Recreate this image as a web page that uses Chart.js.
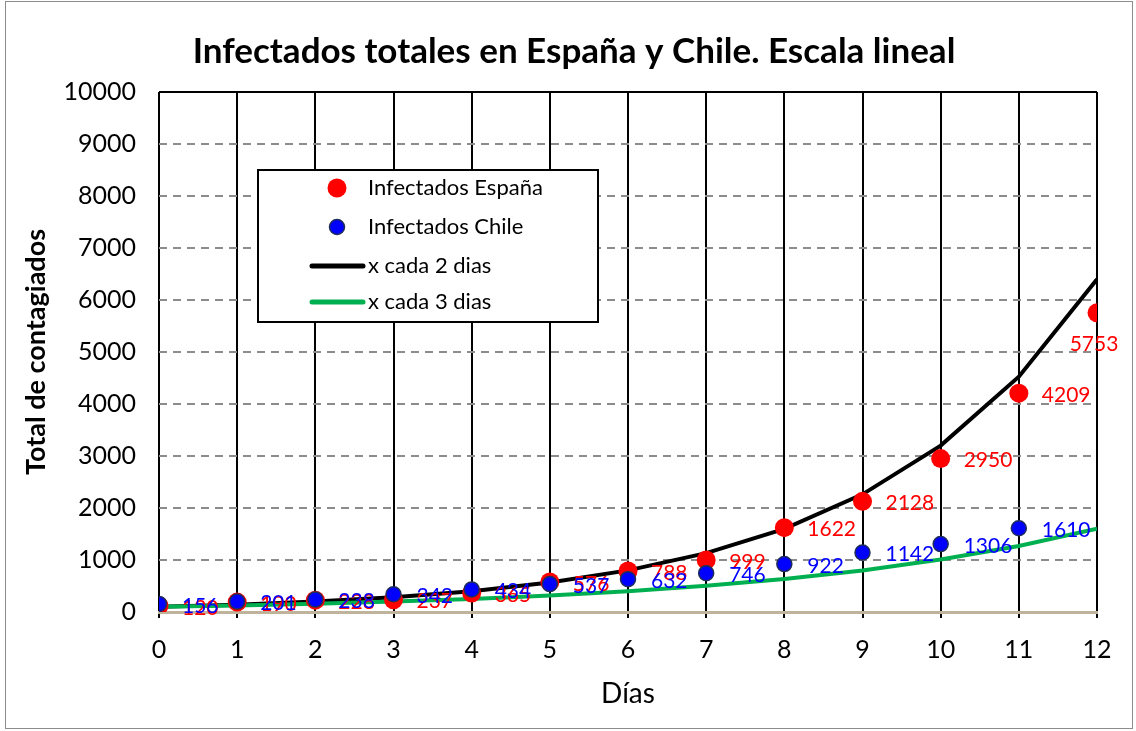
<!DOCTYPE html>
<html>
<head>
<meta charset="utf-8">
<script src="https://cdn.jsdelivr.net/npm/chart.js@4.4.1/dist/chart.umd.min.js"></script>
<style>
  html, body { margin: 0; padding: 0; background: #fff; }
  #wrap { width: 1136px; height: 731px; position: relative; }
</style>
</head>
<body>
<div id="wrap"><canvas id="grafico" width="1136" height="731"></canvas></div>
<script>
// Datos
const dias = [0, 1, 2, 3, 4, 5, 6, 7, 8, 9, 10, 11, 12];
const infectadosEspana = [120, 190, 228, 237, 365, 576, 788, 999, 1622, 2128, 2950, 4209, 5753];
const infectadosChile = [156, 201, 238, 342, 434, 537, 632, 746, 922, 1142, 1306, 1610];
const cadaDosDias = [100, 141, 200, 283, 400, 566, 800, 1131, 1600, 2263, 3200, 4525, 6400];
const cadaTresDias = [100, 126, 159, 200, 252, 317, 400, 504, 635, 800, 1008, 1270, 1600];

const FONT = 'Lato, "Open Sans", sans-serif';

function puntos(valores) {
    return valores.map((v, i) => ({ x: dias[i], y: v }));
}

// fondo blanco y marco exterior
const marcoPlugin = {
    id: 'marco',
    beforeDraw(chart) {
        const c = chart.ctx;
        c.save();
        c.fillStyle = '#ffffff';
        c.fillRect(0, 0, chart.width, chart.height);
        c.strokeStyle = '#8c8c8c';
        c.lineWidth = 1;
        c.strokeRect(5.5, 1.5, chart.width - 9, chart.height - 4);
        c.restore();
    },
    afterDraw(chart) {
        // linea superior continua del area del grafico
        const a = chart.chartArea;
        const c = chart.ctx;
        c.save();
        c.strokeStyle = '#000';
        c.lineWidth = 2;
        c.beginPath();
        c.moveTo(a.left, a.top);
        c.lineTo(a.right, a.top);
        c.stroke();
        c.restore();
    }
};

// etiquetas de datos al lado de cada punto
const etiquetasPlugin = {
    id: 'etiquetas',
    afterDatasetsDraw(chart) {
        const c = chart.ctx;
        c.save();
        c.font = '21px ' + FONT;
        chart.data.datasets.forEach((ds, di) => {
            if (!ds.conEtiquetas) return;
            const meta = chart.getDatasetMeta(di);
            c.fillStyle = ds.colorEtiqueta;
            meta.data.forEach((pt, i) => {
                const txt = String(ds.data[i].y);
                if (ds.data[i].x === 12) {
                    c.textAlign = 'center';
                    c.textBaseline = 'middle';
                    c.fillText(txt, pt.x - 3, pt.y + 31);
                } else {
                    c.textAlign = 'left';
                    c.textBaseline = 'middle';
                    c.fillText(txt, pt.x + 23, pt.y + 2);
                }
            });
        });
        c.restore();
    }
};

// leyenda dentro del area del grafico
const leyendaPlugin = {
    id: 'leyendaInterna',
    afterDraw(chart) {
        const c = chart.ctx;
        const box = { x: 258, y: 170, w: 340, h: 152 };
        c.save();
        c.fillStyle = '#fff';
        c.fillRect(box.x, box.y, box.w, box.h);
        c.strokeStyle = '#000';
        c.lineWidth = 2;
        c.strokeRect(box.x, box.y, box.w, box.h);
        const filas = [188, 227, 266, 302];
        c.font = '22px ' + FONT;
        c.textBaseline = 'middle';
        c.textAlign = 'left';
        chart.data.datasets.forEach((ds, i) => {
            const y = filas[i];
            if (ds.showLine) {
                c.strokeStyle = ds.borderColor;
                c.lineWidth = 5;
                c.lineCap = 'round';
                c.beginPath();
                c.moveTo(312, y);
                c.lineTo(363, y);
                c.stroke();
            } else {
                c.beginPath();
                c.arc(337, y, ds.pointRadius, 0, Math.PI * 2);
                c.fillStyle = ds.backgroundColor;
                c.fill();
                if (ds.pointBorderWidth) {
                    c.lineWidth = ds.pointBorderWidth;
                    c.strokeStyle = ds.pointBorderColor;
                    c.stroke();
                }
            }
            c.fillStyle = '#000';
            c.fillText(ds.label, 368, y);
        });
        c.restore();
    }
};

const ctx = document.getElementById('grafico').getContext('2d');
new Chart(ctx, {
    type: 'scatter',
    data: {
        datasets: [
            {
                label: 'Infectados España',
                data: puntos(infectadosEspana),
                backgroundColor: '#ff0000',
                borderColor: '#ff0000',
                pointRadius: 9.5,
                pointBorderWidth: 0,
                showLine: false,
                order: 2,
                conEtiquetas: true,
                colorEtiqueta: '#ff0000'
            },
            {
                label: 'Infectados Chile',
                data: puntos(infectadosChile),
                backgroundColor: '#0000ff',
                pointBorderColor: '#1f2d5a',
                borderColor: '#1f2d5a',
                pointRadius: 7.5,
                pointBorderWidth: 1.5,
                showLine: false,
                order: 1,
                conEtiquetas: true,
                colorEtiqueta: '#0000ff'
            },
            {
                label: 'x cada 2 dias',
                data: puntos(cadaDosDias),
                borderColor: '#000000',
                backgroundColor: '#000000',
                borderWidth: 4,
                pointRadius: 0,
                showLine: true,
                tension: 0,
                order: 4
            },
            {
                label: 'x cada 3 dias',
                data: puntos(cadaTresDias),
                borderColor: '#00b050',
                backgroundColor: '#00b050',
                borderWidth: 4,
                pointRadius: 0,
                showLine: true,
                tension: 0,
                order: 3
            }
        ]
    },
    options: {
        responsive: false,
        animation: false,
        layout: { padding: { left: 12, right: 0, top: 0, bottom: 0 } },
        plugins: {
            legend: { display: false },
            tooltip: { enabled: false },
            title: {
                display: true,
                text: 'Infectados totales en España y Chile. Escala lineal',
                color: '#000',
                font: { family: FONT, size: 35, weight: 'bold' },
                padding: { top: 31, bottom: 19 }
            }
        },
        scales: {
            x: {
                type: 'linear',
                min: 0,
                max: 12,
                ticks: {
                    stepSize: 1,
                    color: '#000',
                    font: { family: FONT, size: 25 },
                    padding: 17
                },
                grid: {
                    color: '#000',
                    lineWidth: 2,
                    drawTicks: true,
                    tickLength: 6,
                    tickColor: '#000'
                },
                border: { color: '#bfb49b', width: 3 },
                title: {
                    display: true,
                    text: 'Días',
                    color: '#000',
                    font: { family: FONT, size: 28 },
                    padding: { top: 4, bottom: 20 }
                },
                afterFit(scale) { scale.height = 119; }
            },
            y: {
                min: 0,
                max: 10000,
                ticks: {
                    stepSize: 1000,
                    color: '#000',
                    font: { family: FONT, size: 25 },
                    padding: 23,
                    callback: (v) => String(v)
                },
                grid: {
                    color: '#8c8c8c',
                    lineWidth: 2,
                    drawTicks: false
                },
                border: { display: false, dash: [8, 6] },
                title: {
                    display: true,
                    text: 'Total de contagiados',
                    color: '#000',
                    font: { family: FONT, size: 27, weight: 'bold' },
                    padding: { top: 8, bottom: 0 }
                },
                afterFit(scale) { scale.width = 147; }
            },
            margenDerecho: {
                axis: 'y',
                position: 'right',
                display: true,
                ticks: { display: false },
                grid: { display: false, drawTicks: false },
                border: { display: false },
                afterFit(scale) { scale.width = 39; }
            }
        }
    },
    plugins: [marcoPlugin, etiquetasPlugin, leyendaPlugin]
});
</script>
</body>
</html>
